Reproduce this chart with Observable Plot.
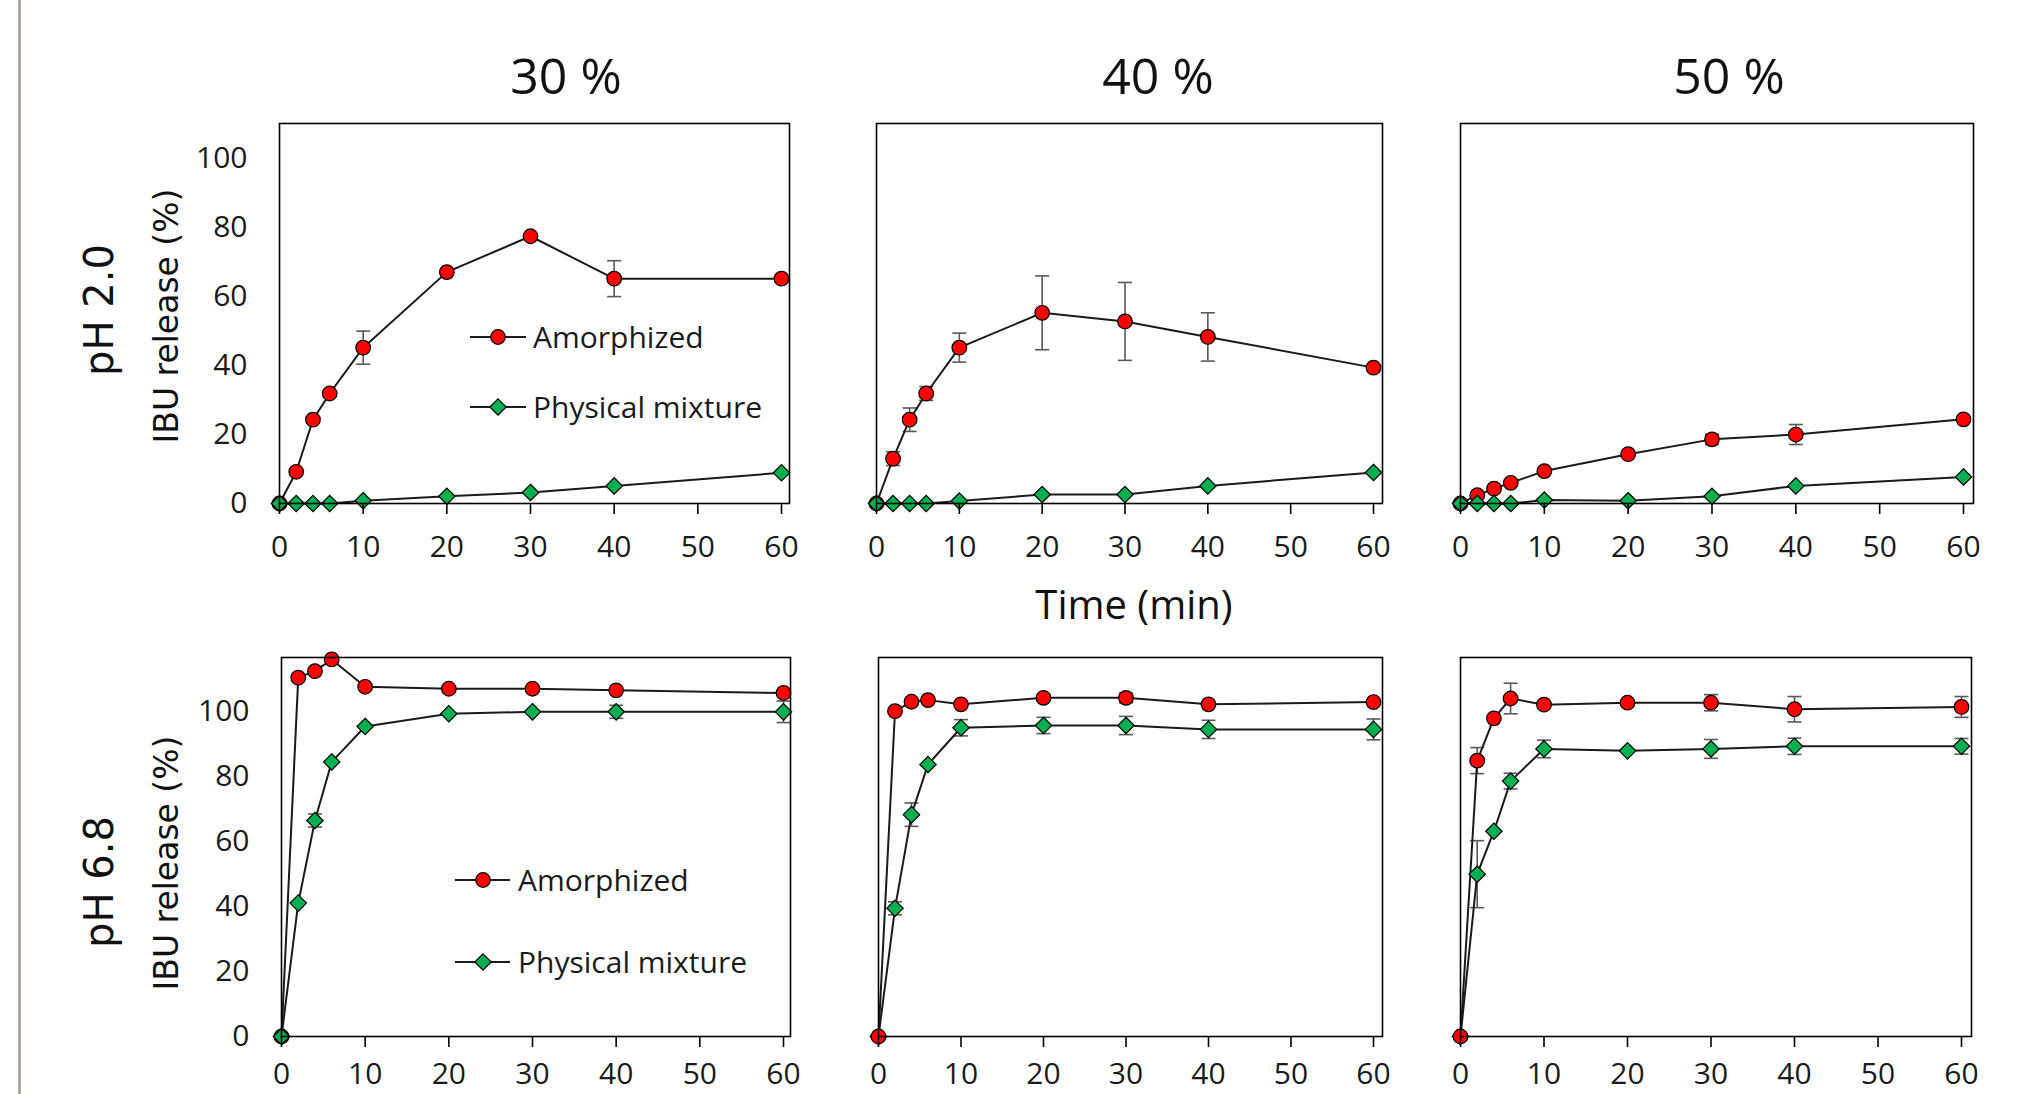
<!DOCTYPE html>
<html>
<head>
<meta charset="utf-8">
<script src="https://cdn.jsdelivr.net/npm/d3@7"></script>
<script src="https://cdn.jsdelivr.net/npm/@observablehq/plot@0.6"></script>
<style>
  html, body { margin: 0; padding: 0; background: #fff; }
  #root { position: relative; width: 2021px; height: 1094px; overflow: hidden; background: #fff; }
  #root > svg.panel { position: absolute; overflow: visible; }
  #overlay { position: absolute; left: 0; top: 0; pointer-events: none; }
</style>
</head>
<body>
<div id="root"></div>
<script>
// ---------------- data ----------------
const times = [0, 2, 4, 6, 10, 20, 30, 40, 60];
const xTicks = [0, 10, 20, 30, 40, 50, 60];
const yTicks = [0, 20, 40, 60, 80, 100];
const concentrations = ["30 %", "40 %", "50 %"];
const phLevels = ["pH 2.0", "pH 6.8"];
const seriesNames = ["Amorphized", "Physical mixture"];
const xTitle = "Time (min)";
const yTitle = "IBU release (%)";

// pH 2.0
const amorph_pH20_30    = [0, 9.2, 24.3, 31.9, 45.2, 67.1, 77.5, 65.2, 65.2];
const amorph_pH20_30_sd = [0, 0, 0, 0, 4.8, 0, 0, 5.2, 0];
const phys_pH20_30      = [0, 0, 0, 0, 0.8, 2.1, 3.2, 5.1, 8.9];
const phys_pH20_30_sd   = [0, 0, 0, 0, 0, 0, 0, 0, 0];
const amorph_pH20_40    = [0, 13.0, 24.3, 31.9, 45.2, 55.3, 52.8, 48.3, 39.4];
const amorph_pH20_40_sd = [0, 2.0, 3.4, 2.0, 4.2, 10.7, 11.3, 7.0, 0];
const phys_pH20_40      = [0, 0, 0, 0, 0.7, 2.6, 2.6, 5.1, 9.0];
const phys_pH20_40_sd   = [0, 0, 0, 0, 0, 0, 0, 0, 0];
const amorph_pH20_50    = [0, 2.4, 4.3, 6.0, 9.4, 14.3, 18.6, 20.0, 24.4];
const amorph_pH20_50_sd = [0, 0, 0, 0, 0, 0, 1.5, 2.9, 0];
const phys_pH20_50      = [0, 0, 0, 0, 1.0, 0.8, 2.1, 5.1, 7.7];
const phys_pH20_50_sd   = [0, 0, 0, 0, 0, 0, 0, 0, 0];
// pH 6.8
const amorph_pH68_30    = [0, 110.3, 112.3, 115.9, 107.5, 106.9, 106.9, 106.4, 105.6];
const amorph_pH68_30_sd = [0, 0, 0, 0, 0, 0, 0, 0, 0];
const phys_pH68_30      = [0, 41.0, 66.4, 84.4, 95.3, 99.2, 99.8, 99.8, 99.8];
const phys_pH68_30_sd   = [0, 0, 2.0, 0, 0, 0, 0, 2.0, 3.3];
const amorph_pH68_40    = [0, 100.0, 102.9, 103.4, 102.1, 104.1, 104.1, 102.1, 102.8];
const amorph_pH68_40_sd = [0, 0, 0, 0, 0, 1.0, 1.5, 0, 0];
const phys_pH68_40      = [0, 39.4, 68.2, 83.6, 94.9, 95.6, 95.6, 94.4, 94.4];
const phys_pH68_40_sd   = [0, 2.0, 3.6, 0, 2.5, 2.5, 2.8, 2.8, 3.2];
const amorph_pH68_50    = [0, 84.8, 97.8, 103.9, 102.0, 102.6, 102.6, 100.6, 101.3];
const amorph_pH68_50_sd = [0, 4.0, 0, 4.7, 0, 0, 2.5, 3.9, 3.2];
const phys_pH68_50      = [0, 49.9, 63.1, 78.5, 88.4, 87.8, 88.4, 89.2, 89.2];
const phys_pH68_50_sd   = [0, 10.3, 0, 2.4, 2.7, 0, 2.9, 2.5, 2.4];

// ---------------- layout ----------------
const RED = "#ff0000", GREEN = "#00b050";
const TICK_FONT = "'Open Sans', sans-serif";
const rows = [
  { top: 123, bottom: 503, yMax: 110.2, tickPad: 21,
    panels: [
      { left: 279, right: 789, x60: 781, a: amorph_pH20_30, ae: amorph_pH20_30_sd, p: phys_pH20_30, pe: phys_pH20_30_sd, greenOnTop: true },
      { left: 876, right: 1382, x60: 1373, a: amorph_pH20_40, ae: amorph_pH20_40_sd, p: phys_pH20_40, pe: phys_pH20_40_sd, greenOnTop: true },
      { left: 1460, right: 1973, x60: 1963, a: amorph_pH20_50, ae: amorph_pH20_50_sd, p: phys_pH20_50, pe: phys_pH20_50_sd, greenOnTop: true }
    ]},
  { top: 657, bottom: 1036, yMax: 116.5, tickPad: 15,
    panels: [
      { left: 281, right: 790, x60: 783, a: amorph_pH68_30, ae: amorph_pH68_30_sd, p: phys_pH68_30, pe: phys_pH68_30_sd, greenOnTop: true },
      { left: 878, right: 1382, x60: 1373, a: amorph_pH68_40, ae: amorph_pH68_40_sd, p: phys_pH68_40, pe: phys_pH68_40_sd, greenOnTop: false },
      { left: 1460, right: 1971, x60: 1961, a: amorph_pH68_50, ae: amorph_pH68_50_sd, p: phys_pH68_50, pe: phys_pH68_50_sd, greenOnTop: false }
    ]}
];

// custom symbols (size = r*r*PI)
const capSymbol = { draw(ctx, size) { const r = Math.sqrt(size / Math.PI); ctx.moveTo(-r, 0); ctx.lineTo(r, 0); } };
const diamondSymbol = { draw(ctx, size) { const r = Math.sqrt(size / Math.PI); ctx.moveTo(0, -r); ctx.lineTo(r, 0); ctx.lineTo(0, r); ctx.lineTo(-r, 0); ctx.closePath(); } };

const root = document.getElementById("root");
const ML = 110, MR = 20, MT = 20, MB = 56;

function seriesMarks(rowsData, kind) {
  const withErr = rowsData.filter(d => d.e > 0);
  const markOpts = kind === "a"
    ? { symbol: "circle", r: 7.3, fill: RED }
    : { symbol: diamondSymbol, r: 8.2, fill: GREEN };
  return {
    err: [
      Plot.ruleX(withErr, { x: "t", y1: d => d.v - d.e, y2: d => d.v + d.e, stroke: "#595959", strokeWidth: 1.6 }),
      Plot.dot(withErr, { x: "t", y: d => d.v + d.e, symbol: capSymbol, r: 7, fill: "none", stroke: "#595959", strokeWidth: 1.6 }),
      Plot.dot(withErr, { x: "t", y: d => d.v - d.e, symbol: capSymbol, r: 7, fill: "none", stroke: "#595959", strokeWidth: 1.6 })
    ],
    line: Plot.line(rowsData, { x: "t", y: "v", stroke: "#1a1a1a", strokeWidth: 2 }),
    dots: Plot.dot(rowsData, { x: "t", y: "v", ...markOpts, stroke: "#000", strokeWidth: 1.2 })
  };
}

rows.forEach((row, ri) => {
  row.panels.forEach((pn, ci) => {
    const frameW = pn.right - pn.left, frameH = row.bottom - row.top;
    const xMax = 60 * frameW / (pn.x60 - pn.left);
    const aData = times.map((t, i) => ({ t, v: pn.a[i], e: pn.ae[i], s: seriesNames[0] }));
    const pData = times.map((t, i) => ({ t, v: pn.p[i], e: pn.pe[i], s: seriesNames[1] }));
    const A = seriesMarks(aData, "a"), P = seriesMarks(pData, "p");
    const first = pn.greenOnTop ? A : P, second = pn.greenOnTop ? P : A;
    const marks = [
      ...A.err, ...P.err,
      first.line, second.line,
      first.dots, second.dots,
      Plot.frame({ stroke: "#000", strokeWidth: 1.6 }),
      Plot.axisX({ ticks: xTicks, tickSize: 11, tickPadding: row.tickPad, stroke: "#000", strokeWidth: 1.6, label: null, tickFormat: d => String(d) })
    ];
    if (ci === 0) marks.push(Plot.axisY({ ticks: yTicks, tickSize: 0, tickPadding: 32, label: null, tickFormat: d => String(d) }));
    const svg = Plot.plot({
      width: frameW + ML + MR,
      height: frameH + MT + MB,
      marginLeft: ML, marginRight: MR, marginTop: MT, marginBottom: MB,
      x: { domain: [0, xMax], label: null },
      y: ci === 0 ? { domain: [0, row.yMax], label: null } : { domain: [0, row.yMax], label: null, axis: null },
      style: { fontFamily: TICK_FONT, fontSize: "30px", color: "#1a1a1a", background: "transparent", overflow: "visible" },
      marks
    });
    svg.classList.add("panel");
    svg.style.left = (pn.left - ML) + "px";
    svg.style.top = (row.top - MT) + "px";
    root.appendChild(svg);
  });
});

// ---------------- overlay texts, legends ----------------
const NS = "http://www.w3.org/2000/svg";
const ov = document.createElementNS(NS, "svg");
ov.setAttribute("id", "overlay");
ov.setAttribute("width", 2021);
ov.setAttribute("height", 1094);
root.appendChild(ov);
function el(tag, attrs, text) {
  const e = document.createElementNS(NS, tag);
  for (const k in attrs) e.setAttribute(k, attrs[k]);
  if (text != null) e.textContent = text;
  ov.appendChild(e);
  return e;
}
// left border line
el("line", { x1: 19.5, x2: 19.5, y1: 0, y2: 1094, stroke: "#a2978b", "stroke-width": 2.5 });

// concentration titles
const titleX = [566, 1158, 1729];
concentrations.forEach((c, i) => el("text", { x: titleX[i], y: 94, "text-anchor": "middle", "font-family": TICK_FONT, "font-size": 50, fill: "#111" }, c));

// x title
el("text", { x: 1134, y: 619, "text-anchor": "middle", "font-family": TICK_FONT, "font-size": 40, fill: "#111" }, xTitle);

// pH and y titles
const phY = [310, 882], yTitleY = [316, 863];
phLevels.forEach((ph, i) => {
  el("text", { transform: `translate(113,${phY[i]}) rotate(-90)`, "text-anchor": "middle", "font-family": "'DejaVu Sans', sans-serif", "font-size": 40, fill: "#111" }, ph);
  el("text", { transform: `translate(178,${yTitleY[i]}) rotate(-90)`, "text-anchor": "middle", "font-family": "'DejaVu Sans', sans-serif", "font-size": 33, fill: "#111" }, yTitle);
});

// legends
const legends = [
  { x0: 470, x1: 526, mx: 498, tx: 533, ys: [337, 407] },
  { x0: 455, x1: 510, mx: 483, tx: 518, ys: [880, 962] }
];
legends.forEach(lg => {
  seriesNames.forEach((name, k) => {
    const y = lg.ys[k];
    el("line", { x1: lg.x0, x2: lg.x1, y1: y, y2: y, stroke: "#1a1a1a", "stroke-width": 2 });
    if (k === 0) el("circle", { cx: lg.mx, cy: y, r: 7.3, fill: RED, stroke: "#000", "stroke-width": 1.2 });
    else el("path", { d: `M${lg.mx},${y - 8.2}L${lg.mx + 8.2},${y}L${lg.mx},${y + 8.2}L${lg.mx - 8.2},${y}Z`, fill: GREEN, stroke: "#000", "stroke-width": 1.2 });
    el("text", { x: lg.tx, y: y + 10.5, "font-family": TICK_FONT, "font-size": 30, fill: "#1a1a1a" }, name);
  });
});
</script>
</body>
</html>
